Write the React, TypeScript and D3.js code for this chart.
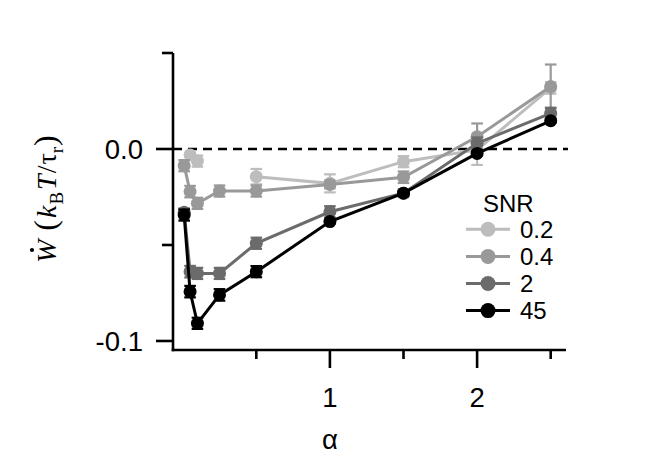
import React from "react";
import * as d3 from "d3";

// alpha values shared by all series (null = no point measured)
const alphas = [0.01, 0.05, 0.1, 0.25, 0.5, 1, 1.5, 2, 2.5];

const snrLabels = ["0.2", "0.4", "2", "45"];
const snrColors = ["#bdbdbd", "#999999", "#6b6b6b", "#000000"];

const wSnr02 = [null, -0.0031, -0.0063, null, -0.0144, -0.0179, -0.0066, -0.0005, 0.0318];
const eSnr02 = [null, 0.001, 0.0029, null, 0.004, 0.0047, 0.0029, 0.0078, 0.003];

const wSnr04 = [-0.0087, -0.0222, -0.0283, -0.0219, -0.0219, -0.0185, -0.0147, 0.0064, 0.0325];
const eSnr04 = [0.0029, 0.003, 0.0029, 0.0029, 0.0029, 0.002, 0.003, 0.0069, 0.0115];

const wSnr2 = [-0.033, -0.0639, -0.0648, -0.0648, -0.0491, -0.0327, -0.023, 0.003, 0.0186];
const eSnr2 = [0.002, 0.003, 0.0029, 0.0029, 0.0029, 0.0029, 0.002, 0.003, 0.0029];

const wSnr45 = [-0.0344, -0.0743, -0.0908, -0.076, -0.0639, -0.0378, -0.023, -0.0023, 0.0147];
const eSnr45 = [0.0029, 0.003, 0.0029, 0.003, 0.0029, 0.001, 0.001, 0.001, 0.001];

const seriesValues = [wSnr02, wSnr04, wSnr2, wSnr45];
const seriesErrors = [eSnr02, eSnr04, eSnr2, eSnr45];

const xMajorTicks = [1, 2];
const xMinorTicks = [0.5, 1.5, 2.5];
const yMajorTicks = [0, -0.1];
const yMinorTicks = [0.05, -0.05];

const W = 664;
const H = 475;

export default function App() {
  const x = d3.scaleLinear().domain([-0.066, 2.604]).range([173, 566]);
  const y = d3.scaleLinear().domain([-0.1047, 0.05]).range([350, 53]);

  const sans = "'Liberation Sans', Arial, Helvetica, sans-serif";
  const serif = "'Liberation Serif', 'Times New Roman', serif";

  const r = 6.5;
  const cap = 5.8;

  const line = d3
    .line<[number, number | null]>()
    .defined((d) => d[1] !== null)
    .x((d) => x(d[0]))
    .y((d) => y(d[1] as number));

  // plain hyphen for negatives, like the original
  const yTickFmt = (v: number) => v.toFixed(1);

  return (
    <svg
      width={W}
      height={H}
      style={{ position: "absolute", left: 0, top: 0, background: "#fff" }}
    >
      {/* zero line */}
      <line
        x1={x.range()[0]}
        x2={x.range()[1] + 2}
        y1={y(0)}
        y2={y(0)}
        stroke="#000"
        strokeWidth={2.5}
        strokeDasharray="9,6"
      />

      {/* series */}
      {seriesValues.map((vals, si) => {
        const color = snrColors[si];
        const pts = alphas.map((a, i) => [a, vals[i]] as [number, number | null]);
        return (
          <g key={si}>
            <path d={line(pts) || ""} fill="none" stroke={color} strokeWidth={3} />
            {pts.map((p, i) => {
              if (p[1] === null) return null;
              const e = seriesErrors[si][i] as number;
              const cx = x(p[0]);
              const yt = y(p[1] + e);
              const yb = y(p[1] - e);
              return (
                <g key={i}>
                  <line x1={cx} x2={cx} y1={yt} y2={yb} stroke={color} strokeWidth={2.2} />
                  <line x1={cx - cap} x2={cx + cap} y1={yt} y2={yt} stroke={color} strokeWidth={2.2} />
                  <line x1={cx - cap} x2={cx + cap} y1={yb} y2={yb} stroke={color} strokeWidth={2.2} />
                  <circle cx={cx} cy={y(p[1])} r={r} fill={color} />
                </g>
              );
            })}
          </g>
        );
      })}

      {/* axes */}
      <g stroke="#000" strokeWidth={2.6}>
        <line x1={x.range()[0]} x2={x.range()[0]} y1={y.range()[1]} y2={y.range()[0] + 1.3} />
        <line x1={x.range()[0] - 1.3} x2={x.range()[1]} y1={y.range()[0]} y2={y.range()[0]} />
        {yMajorTicks.map((t) => (
          <line key={"ym" + t} x1={x.range()[0] - 17} x2={x.range()[0]} y1={y(t)} y2={y(t)} />
        ))}
        {yMinorTicks.map((t) => (
          <line key={"yn" + t} x1={x.range()[0] - 11} x2={x.range()[0]} y1={y(t)} y2={y(t)} />
        ))}
        {xMajorTicks.map((t) => (
          <line key={"xm" + t} x1={x(t)} x2={x(t)} y1={y.range()[0]} y2={y.range()[0] + 18} />
        ))}
        {xMinorTicks.map((t) => (
          <line key={"xn" + t} x1={x(t)} x2={x(t)} y1={y.range()[0]} y2={y.range()[0] + 9} />
        ))}
      </g>

      {/* tick labels */}
      <g fontFamily={sans} fontSize={27.5} fill="#000">
        {yMajorTicks.map((t) => (
          <text key={"yl" + t} x={143} y={y(t) + 9.8} textAnchor="end">
            {yTickFmt(t)}
          </text>
        ))}
        {xMajorTicks.map((t) => (
          <text key={"xl" + t} x={x(t)} y={407} textAnchor="middle">
            {t}
          </text>
        ))}
        <text x={x(1)} y={449} textAnchor="middle">
          α
        </text>
      </g>

      {/* y label: W-dot (k_B T / tau_r) */}
      <g transform="translate(56,263) rotate(-90)" fontFamily={serif} fill="#000">
        <circle cx={13} cy={-24} r={2.1} fill="#000" />
        <text x={0} y={0} fontSize={28}>
          <tspan fontStyle="italic">W</tspan>
          <tspan fontSize={32} dx={9}>(</tspan>
          <tspan fontStyle="italic" dx={2}>k</tspan>
          <tspan fontSize={19} dy={7} dx={1}>B</tspan>
          <tspan fontStyle="italic" dy={-7} dx={2}>T</tspan>
          <tspan dx={1}>/</tspan>
          <tspan dx={1}>τ</tspan>
          <tspan fontSize={19} dy={7}>r</tspan>
          <tspan fontSize={32} dy={-7} dx={1}>)</tspan>
        </text>
      </g>

      {/* legend */}
      <g fontFamily={sans} fontSize={24} fill="#000">
        <text x={483} y={212}>SNR</text>
        {snrLabels.map((lab, i) => {
          const ly = 229.3 + i * 27.1;
          return (
            <g key={lab}>
              <line x1={466} x2={510} y1={ly} y2={ly} stroke={snrColors[i]} strokeWidth={3} />
              <circle cx={488} cy={ly} r={7.5} fill={snrColors[i]} />
              <text x={520} y={ly + 8.6}>{lab}</text>
            </g>
          );
        })}
      </g>
    </svg>
  );
}
